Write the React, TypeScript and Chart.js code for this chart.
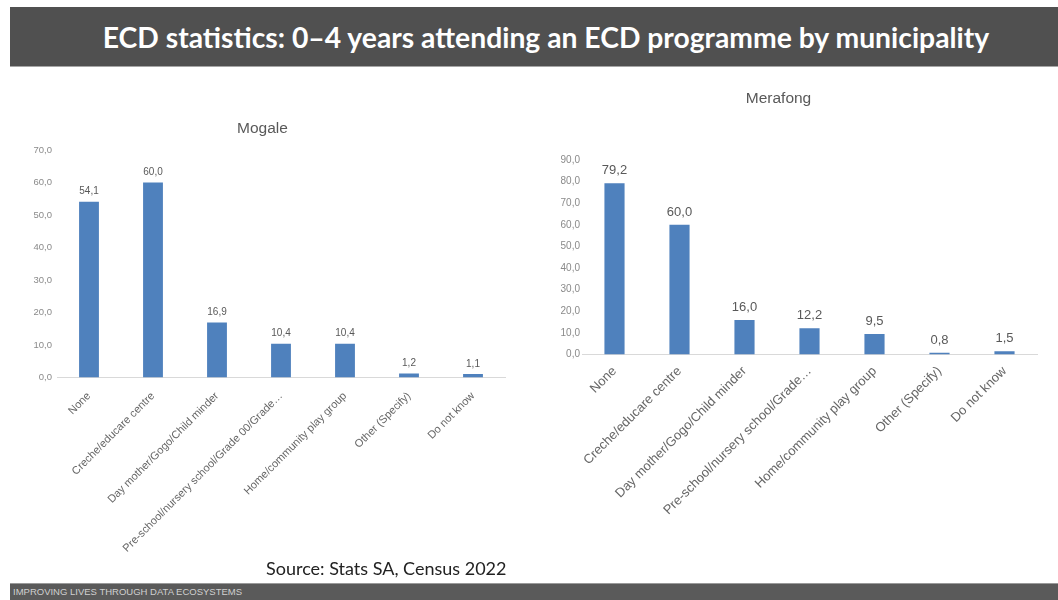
import React, { useEffect, useRef } from "react";
import { Chart, registerables } from "chart.js";

Chart.register(...registerables);

const categoriesMogale = [
  "None",
  "Creche/educare centre",
  "Day mother/Gogo/Child minder",
  "Pre-school/nursery school/Grade 00/Grade…",
  "Home/community play group",
  "Other (Specify)",
  "Do not know",
];
const categoriesMerafong = [
  "None",
  "Creche/educare centre",
  "Day mother/Gogo/Child minder",
  "Pre-school/nursery school/Grade…",
  "Home/community play group",
  "Other (Specify)",
  "Do not know",
];
const valuesMogale = [54.1, 60.0, 16.9, 10.4, 10.4, 1.2, 1.1];
const valuesMerafong = [79.2, 60.0, 16.0, 12.2, 9.5, 0.8, 1.5];
const yMaxMogale = 70;
const yMaxMerafong = 90;
const yStep = 10;

const FONT = '"Liberation Sans", Arial, sans-serif';
const BAR = "#4F81BD";

const fmt = (v: number) => Number(v).toFixed(1).replace(".", ",");

const valueLabelPlugin = {
  id: "valueLabels",
  afterDatasetsDraw(chart: any, _args: any, opts: any) {
    const ctx = chart.ctx;
    const meta = chart.getDatasetMeta(0);
    const data = chart.data.datasets[0].data as number[];
    ctx.save();
    ctx.font = `${opts.size}px ${FONT}`;
    ctx.fillStyle = opts.color;
    ctx.textAlign = "center";
    ctx.textBaseline = "bottom";
    meta.data.forEach((bar: any, i: number) => {
      ctx.fillText(fmt(data[i]), bar.x, bar.y - opts.offset);
    });
    ctx.restore();
  },
};

type Props = {
  title: string;
  labels: string[];
  values: number[];
  yMax: number;
  left: number;
  top: number;
  width: number;
  height: number;
  yWidth: number;
  yPad: number;
  xPad: number;
  xHeight: number;
  padRight: number;
  titlePadTop: number;
  titlePadBottom: number;
  tickFont: number;
  xFont: number;
  valueFont: number;
  valueOffset: number;
};

function BarChart(p: Props) {
  const ref = useRef<HTMLCanvasElement | null>(null);
  useEffect(() => {
    if (!ref.current) return;
    const chart = new Chart(ref.current, {
      type: "bar",
      data: {
        labels: p.labels,
        datasets: [
          {
            data: p.values,
            backgroundColor: BAR,
            borderWidth: 0,
            categoryPercentage: 1,
            barPercentage: 0.31,
          },
        ],
      },
      options: {
        responsive: false,
        animation: false,
        layout: { padding: { left: 0, right: p.padRight, top: 0, bottom: 0 } },
        plugins: {
          legend: { display: false },
          tooltip: { enabled: false },
          title: {
            display: true,
            text: p.title,
            color: "#595959",
            font: { family: FONT, size: 15.5, weight: "normal" },
            padding: { top: p.titlePadTop, bottom: p.titlePadBottom },
          },
          valueLabels: { size: p.valueFont, color: "#595959", offset: p.valueOffset },
        } as any,
        scales: {
          x: {
            grid: { display: false, drawTicks: false },
            border: { display: true, color: "#d9d9d9", width: 1 },
            ticks: {
              autoSkip: false,
              minRotation: 45,
              maxRotation: 45,
              padding: p.xPad,
              color: "#666666",
              font: { family: FONT, size: p.xFont },
            },
            afterFit: (s: any) => {
              s.height = p.xHeight;
            },
          },
          y: {
            min: 0,
            max: p.yMax,
            grid: { display: false, drawTicks: false },
            border: { display: false },
            ticks: {
              stepSize: yStep,
              padding: p.yPad,
              color: "#8a8a8a",
              font: { family: FONT, size: p.tickFont },
              callback: (v: any) => fmt(v),
            },
            afterFit: (s: any) => {
              s.width = p.yWidth;
            },
          },
        },
      },
      plugins: [valueLabelPlugin as any],
    });
    return () => chart.destroy();
  }, []);
  return (
    <canvas
      ref={ref}
      width={p.width}
      height={p.height}
      style={{ position: "absolute", left: p.left, top: p.top, width: p.width, height: p.height }}
    />
  );
}

export default function App() {
  return (
    <div
      style={{
        position: "absolute",
        left: 0,
        top: 0,
        width: 1058,
        height: 600,
        background: "#ffffff",
        overflow: "hidden",
      }}
    >
      <div
        style={{
          position: "absolute",
          left: 10,
          top: 7,
          width: 1048,
          height: 60,
          background: "#505050",
          borderBottom: "1px solid #a6a6a6",
          color: "#ffffff",
          fontFamily: "Lato, 'Open Sans', sans-serif",
          fontWeight: 700,
          fontSize: 28.3,
          lineHeight: "60px",
          textAlign: "center",
          boxSizing: "border-box",
          paddingLeft: 24,
          whiteSpace: "nowrap",
        }}
      >
        ECD statistics: 0–4 years attending an ECD programme by municipality
      </div>

      <BarChart
        title="Mogale"
        labels={categoriesMogale}
        values={valuesMogale}
        yMax={yMaxMogale}
        left={20}
        top={110}
        width={490}
        height={460}
        yWidth={37}
        yPad={5}
        xPad={12}
        xHeight={192.5}
        padRight={5}
        titlePadTop={9}
        titlePadBottom={12.4}
        tickFont={9.5}
        xFont={11}
        valueFont={10}
        valueOffset={5}
      />
      <BarChart
        title="Merafong"
        labels={categoriesMerafong}
        values={valuesMerafong}
        yMax={yMaxMerafong}
        left={520}
        top={80}
        width={538}
        height={460}
        yWidth={62}
        yPad={2}
        xPad={9}
        xHeight={185.5}
        padRight={21}
        titlePadTop={9}
        titlePadBottom={52.4}
        tickFont={10}
        xFont={13}
        valueFont={13}
        valueOffset={6}
      />

      <div
        style={{
          position: "absolute",
          left: 266,
          top: 556,
          fontFamily: "Lato, 'Open Sans', sans-serif",
          fontSize: 18,
          lineHeight: "24px",
          color: "#222222",
          whiteSpace: "nowrap",
        }}
      >
        Source: Stats SA, Census 2022
      </div>

      <div
        style={{
          position: "absolute",
          left: 10,
          top: 583,
          width: 1048,
          height: 17,
          background: "#5a5a5a",
          borderTop: "1px solid #9a9a9a",
          boxSizing: "border-box",
          color: "#d0d0d0",
          fontFamily: "'Liberation Sans Narrow', 'Liberation Sans', sans-serif",
          fontSize: 9.5,
          lineHeight: "15px",
          paddingLeft: 3,
          whiteSpace: "nowrap",
        }}
      >
        IMPROVING LIVES THROUGH DATA ECOSYSTEMS
      </div>
    </div>
  );
}
